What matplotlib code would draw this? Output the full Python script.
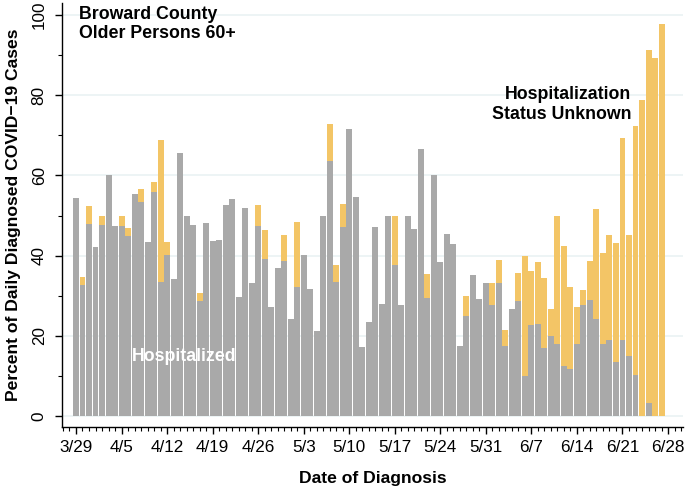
import numpy as np
import matplotlib
matplotlib.use("Agg")
from matplotlib import pyplot as plt
from matplotlib.ticker import MultipleLocator

plt.rcParams['font.family'] = ['Liberation Sans', 'DejaVu Sans']

# daily values, 3/29 .. 6/27
hospitalized = [54.5, 32.6, 47.8, 42.1, 47.6, 60.0, 47.5, 47.5, 44.9, 55.3,
                53.4, 43.4, 55.9, 33.4, 40.1, 34.3, 65.5, 50.0, 47.6, 28.6,
                48.2, 43.6, 43.9, 52.6, 54.2, 29.7, 51.9, 33.3, 47.4, 39.3,
                27.2, 37.0, 38.8, 24.1, 32.3, 40.1, 31.8, 21.2, 50.0, 63.7,
                33.4, 47.1, 71.5, 54.6, 17.2, 23.6, 47.1, 28.0, 50.0, 37.6,
                27.7, 50.0, 46.7, 66.7, 29.4, 60.0, 38.4, 45.5, 42.8, 17.6,
                25.0, 35.3, 29.3, 33.3, 27.8, 33.3, 17.4, 26.6, 28.6, 9.9,
                22.7, 23.1, 17.1, 20.0, 17.9, 12.4, 11.7, 18.1, 27.8, 29.0,
                24.1, 18.1, 19.0, 13.5, 19.1, 15.0, 10.2, 0.0, 3.4, 0.0,
                0.0]
unknown = [0.0, 2.1, 4.5, 0.0, 2.4, 0.0, 0.0, 2.5, 2.1, 0.0,
           3.3, 0.0, 2.4, 35.5, 3.3, 0.0, 0.0, 0.0, 0.0, 2.0,
           0.0, 0.0, 0.0, 0.0, 0.0, 0.0, 0.0, 0.0, 5.2, 7.2,
           0.0, 0.0, 6.4, 0.0, 16.1, 0.0, 0.0, 0.0, 0.0, 9.1,
           4.2, 5.8, 0.0, 0.0, 0.0, 0.0, 0.0, 0.0, 0.0, 12.4,
           0.0, 0.0, 0.0, 0.0, 6.0, 0.0, 0.0, 0.0, 0.0, 0.0,
           5.0, 0.0, 0.0, 0.0, 5.5, 5.6, 4.2, 0.0, 7.0, 30.0,
           13.6, 15.3, 17.4, 6.6, 32.1, 30.1, 20.6, 9.1, 3.6, 9.8,
           27.6, 22.7, 26.2, 29.7, 50.2, 30.2, 62.1, 78.8, 87.9, 89.4,
           97.7]
tick_labels = ['3/29', '4/5', '4/12', '4/19', '4/26', '5/3', '5/10', '5/17',
               '5/24', '5/31', '6/7', '6/14', '6/21', '6/28']

days = np.arange(len(hospitalized))
hosp = np.array(hospitalized)
unk = np.array(unknown)

gray = '#A9A9A9'
gold = '#F3C566'

fig = plt.figure(figsize=(6.85, 4.86), dpi=100)
ax = fig.add_axes([62/685, 1 - 427/486, 621/685, 424/486])

ax.bar(days, hosp, width=0.92, color=gray, linewidth=0, zorder=2)
ax.bar(days, unk, width=0.92, bottom=hosp, color=gold, linewidth=0, zorder=2)

ax.set_xlim(-2.15, 93.3)
ax.set_ylim(-2.7, 103)

ax.set_xticks(np.arange(0, 7 * len(tick_labels), 7))
ax.set_xticklabels(tick_labels)
ax.xaxis.set_minor_locator(MultipleLocator(1))
ax.set_yticks(np.arange(0, 101, 20))
ax.yaxis.set_minor_locator(MultipleLocator(10))
ax.tick_params(axis='both', which='major', length=5, width=1, labelsize=12.3)
ax.tick_params(axis='x', which='major', pad=4)
ax.tick_params(axis='y', which='major', pad=6)
ax.tick_params(axis='both', which='minor', length=3, width=0.8)
plt.setp(ax.get_yticklabels(), rotation=90, va='center')

ax.grid(axis='y', which='major', color='#EAF2F3', linewidth=1.2, zorder=0)
for s in ['top', 'right']:
    ax.spines[s].set_visible(False)
for s in ['left', 'bottom']:
    ax.spines[s].set_linewidth(1)

ax.set_ylabel('Percent of Daily Diagnosed COVID\u221219 Cases', fontsize=12.6,
              fontweight='bold', labelpad=8)
ax.set_xlabel('Date of Diagnosis', fontsize=12.6, fontweight='bold', labelpad=12)

ax.text(0.5, 102.3, 'Broward County\nOlder Persons 60+', fontsize=12.8, fontweight='bold',
        ha='left', va='top', linespacing=1.2)
ax.text(85.4, 77.7, 'Hospitalization\nStatus Unknown', fontsize=12.8, fontweight='bold',
        ha='right', va='center', linespacing=1.2)
ax.text(16.7, 14.8, 'Hospitalized', fontsize=12.8, fontweight='bold', color='white',
        ha='center', va='center', zorder=3)

fig.savefig('out.png', dpi=100)
